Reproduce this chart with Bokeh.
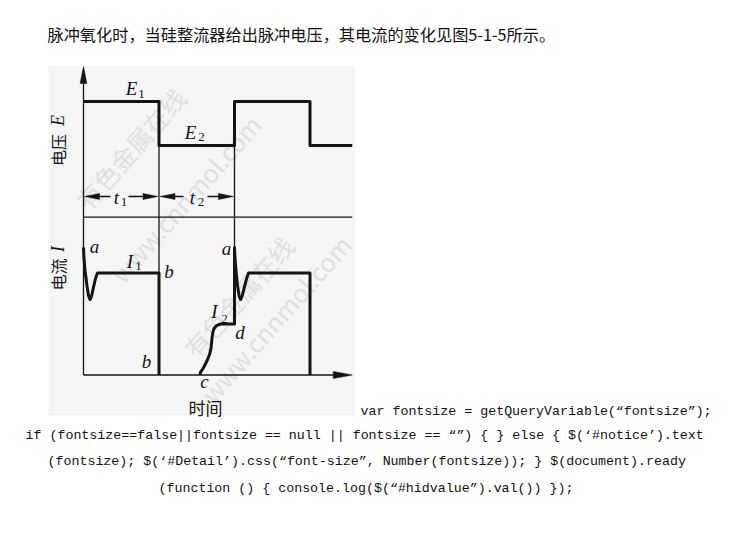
import numpy as np
from bokeh.plotting import figure
from bokeh.models import Range1d
from bokeh.core.properties import value
from bokeh.embed import file_html
from bokeh.resources import INLINE

# ---------------- data ----------------
# voltage pulse train: time in pulse-length units, E relative to E1
volt_t = [0.0, 1.0, 1.0, 2.0, 2.0, 3.0, 3.0, 3.56]
volt_E = [1.0, 1.0, 0.62, 0.62, 1.0, 1.0, 0.62, 0.62]
E_levels = {"E1": 1.0, "E2": 0.62}

# current during the first pulse (I relative to I1)
cur1_t = [0.0, 0.007, 0.02, 0.046, 0.066, 0.086, 0.106, 0.132, 0.159, 0.185, 0.2, 1.0, 1.0]
cur1_I = [1.25, 1.14, 1.025, 0.877, 0.78, 0.74, 0.77, 0.86, 0.946, 1.0, 1.0, 1.0, 0.0]

# current from c through d, then second pulse
cur2_t = [1.543, 1.55, 1.593, 1.638, 1.673, 1.691, 1.699, 1.709, 1.726, 1.762, 1.815,
          2.0, 2.0, 2.007, 2.02, 2.04, 2.06, 2.08, 2.1, 2.13, 2.16, 2.185, 2.2, 3.0, 3.0]
cur2_I = [0.0, 0.027, 0.076, 0.142, 0.208, 0.272, 0.338, 0.403, 0.453, 0.485, 0.5,
          0.5, 1.25, 1.14, 1.025, 0.877, 0.78, 0.74, 0.77, 0.86, 0.946, 1.0, 1.0, 1.0, 0.0]
I2_level = 0.5
t_axis_end = 3.56

heading = "脉冲氧化时，当硅整流器给出脉冲电压，其电流的变化见图5-1-5所示。"
code_lines = [
    "var fontsize = getQueryVariable(“fontsize”);",
    "if (fontsize==false||fontsize == null || fontsize == “”) { } else { $(‘#notice’).text",
    "(fontsize); $(‘#Detail’).css(“font-size”, Number(fontsize)); } $(document).ready",
    "(function () { console.log($(“#hidvalue”).val()) });",
]
watermarks = ["有色金属在线", "www.cnnmol.com", "有色金属在线", "www.cnnmol.com"]

# ---------------- layout (screenshot pixels) ----------------
W, H = 714, 520
PX0, PX_PER_T = 83.0, 75.5      # t = 0 and pixels per time unit
PY_E0, PY_PER_E = 216.7, 115.7  # voltage panel baseline
PY_I0, PY_PER_I = 374.5, 102.0  # current panel baseline

def tx(t): return PX0 + PX_PER_T * t
def ye(e): return PY_E0 - PY_PER_E * e
def yi(i): return PY_I0 - PY_PER_I * i

p = figure(width=W, height=H, x_range=Range1d(0, W), y_range=Range1d(H, 0),
           output_backend="svg", toolbar_location=None, min_border=0,
           x_axis_location=None, y_axis_location=None)
p.grid.visible = False
p.outline_line_color = None
p.background_fill_color = "white"
p.border_fill_color = "white"
p.extra_x_ranges = {"t": Range1d((0 - PX0) / PX_PER_T, (W - PX0) / PX_PER_T)}
p.extra_y_ranges = {
    "E": Range1d((PY_E0 - H) / PY_PER_E, (PY_E0 - 0) / PY_PER_E),
    "I": Range1d((PY_I0 - H) / PY_PER_I, (PY_I0 - 0) / PY_PER_I),
}

INK = "#141414"

# scanned figure background
p.quad(left=[48], right=[355], top=[65], bottom=[415], fill_color="#f5f5f5", line_color=None)

# watermark
wm_x = [130, 185, 238, 275]
wm_y = [148, 198, 296, 318]
p.text(x=wm_x, y=wm_y, text=watermarks, angle=0.85, text_align="center", text_baseline="middle",
       text_font=value("Noto Sans CJK SC"), text_font_size="25px", text_color="#c9c9c9", text_alpha=0.5)

# thin guide lines
thin = dict(line_color=INK, line_width=1.3)
p.segment(x0=[tx(0)], y0=[69], x1=[tx(0)], y1=[yi(0)], **thin)                 # y axis
p.segment(x0=[tx(0)], y0=[yi(0)], x1=[tx(t_axis_end) - 10], y1=[yi(0)], **thin)  # time axis
p.segment(x0=[tx(0)], y0=[ye(0)], x1=[tx(t_axis_end)], y1=[ye(0)], **thin)       # separator
p.segment(x0=[tx(1)], y0=[ye(E_levels["E2"])], x1=[tx(1)], y1=[yi(0)], **thin)
p.segment(x0=[tx(2)], y0=[ye(E_levels["E2"])], x1=[tx(2)], y1=[yi(I2_level)], **thin)

# arrowheads
def head(tipx, tipy, dx, dy, L=15, w=3.2):
    bx, by = tipx - dx * L, tipy - dy * L
    nx, ny = -dy, dx
    return [tipx, bx + nx * w, bx - nx * w], [tipy, by + ny * w, by - ny * w]

heads = [head(tx(0), 66, 0, -1, L=17, w=3.4), head(tx(t_axis_end), yi(0), 1, 0, L=19, w=3.6)]
ya = ye(0.179)
dims = [(0, 1, 110, 128), (1, 2, 183, 207)]
for a, b, g0, g1 in dims:
    heads.append(head(tx(a) + 1, ya, -1, 0, L=15, w=3))
    heads.append(head(tx(b) - 1, ya, 1, 0, L=15, w=3))
    p.segment(x0=[tx(a) + 10, g1], y0=[ya, ya], x1=[g0, tx(b) - 10], y1=[ya, ya], line_color=INK, line_width=1.3)
p.patches(xs=[h[0] for h in heads], ys=[h[1] for h in heads], fill_color=INK, line_color=INK, line_width=0.5)

# waveforms
thick = dict(line_color=INK, line_width=3, line_join="round")
p.line(volt_t, volt_E, x_range_name="t", y_range_name="E", **thick)
p.line(cur1_t, cur1_I, x_range_name="t", y_range_name="I", **thick)
p.line(cur2_t, cur2_I, x_range_name="t", y_range_name="I", **thick)

# italic serif labels
serif = value("Liberation Serif")
big = dict(text_font=serif, text_font_style="italic", text_align="center", text_baseline="middle",
           text_color=INK)
p.text(x=[131, 190, 116, 192, 129.5, 214], y=[88, 132, 197, 197, 261, 311],
       text=["E", "E", "t", "t", "I", "I"], text_font_size="19px", **big)
p.text(x=[94, 226, 168.5, 146, 239.5, 204], y=[246, 248, 271, 361, 332, 381],
       text=["a", "a", "b", "b", "d", "c"], text_font_size="19px", **big)
sub = dict(text_font=serif, text_align="center", text_baseline="middle", text_color=INK)
p.text(x=[141, 201, 123.5, 200.5, 138, 224], y=[93, 136, 201, 201, 265.5, 318.5],
       text=["1", "2", "1", "2", "1", "2"], text_font_size="13px", **sub)

# axis titles
cjk = value("Noto Sans CJK SC")
p.text(x=[57, 57], y=[149.5, 274], text=["电压", "电流"], angle=np.pi / 2, text_font=cjk,
       text_font_size="16px", text_align="center", text_baseline="middle", text_color=INK)
p.text(x=[57, 57], y=[120, 248.5], text=["E", "I"], angle=np.pi / 2, text_font=serif,
       text_font_style="italic", text_font_size="18px", text_align="center",
       text_baseline="middle", text_color=INK)
p.text(x=[205], y=[407], text=["时间"], text_font=cjk, text_font_size="17px",
       text_align="center", text_baseline="middle", text_color=INK)

# page text
p.text(x=[47], y=[33], text=[heading], text_font=cjk, text_font_size="16.2px",
       text_align="left", text_baseline="middle", text_color="#111111")
p.text(x=[360, 25, 47, 158], y=[411, 435, 461, 488], text=code_lines,
       text_font=value("Liberation Mono"), text_font_size="13.3px",
       text_align="left", text_baseline="middle", text_color="#111111")

open("out.html", "w").write(file_html(p, INLINE))
